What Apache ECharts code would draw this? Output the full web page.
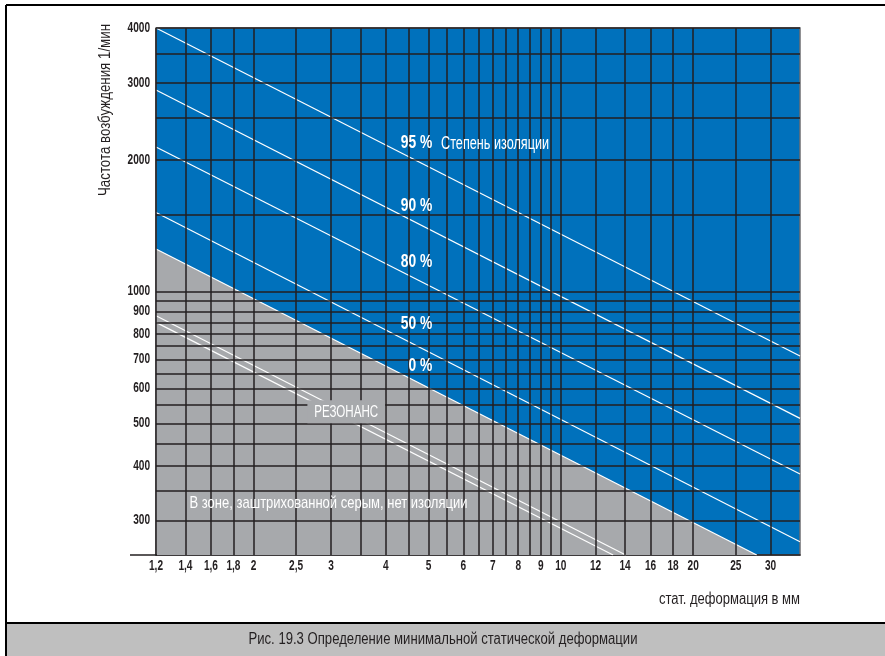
<!DOCTYPE html>
<html>
<head>
<meta charset="utf-8">
<script src="https://cdn.jsdelivr.net/npm/echarts@6/dist/echarts.min.js"></script>
<style>
html,body{margin:0;padding:0;background:#fff;}
#chart{width:885px;height:656px;}
</style>
</head>
<body>
<div id="chart"></div>
<script>
// ---- data ----
var xMin = 1.2, xMax = 35, yMin = 250, yMax = 4000;
var xGrid = [1.2,1.4,1.6,1.8,2,2.5,3,3.5,4,4.5,5,5.5,6,6.5,7,7.5,8,8.5,9,9.5,10,12,14,16,18,20,25,30];
var yGrid = [300,350,400,450,500,550,600,650,700,750,800,850,900,950,1000,1500,2000,2500,3000,3500,4000];
var xTicks = [1.2,1.4,1.6,1.8,2,2.5,3,4,5,6,7,8,9,10,12,14,16,18,20,25,30];
var xTickLabels = ['1,2','1,4','1,6','1,8','2','2,5','3','4','5','6','7','8','9','10','12','14','16','18','20','25','30'];
var yTicks = [300,400,500,600,700,800,900,1000,2000,3000,4000];
var yTickLabels = ['300','400','500','600','700','800','900','1000','2000','3000','4000'];
// isolation lines (start / end points)
var line95 = [[1.2,4000],[35,712]];
var line90 = [[1.2,2886],[35,513]];
var line80 = [[1.2,2139],[35,383]];
var line50 = [[1.2,1515],[35,268]];
var line0  = [[1.2,1250],[27.9,250]];   // boundary of grey zone
var reson1 = [[1.2,880],[14.05,250]];
var reson2 = [[1.2,850],[13.15,250]];
// label anchor points (data coordinates)
var pctLabels = ['95 %','90 %','80 %','50 %','0 %'];
var pctPos = [[5.1,2188],[5.1,1568],[5.1,1170],[5.1,843],[5.1,677]];
var degreeText = 'Степень изоляции', degreePos = [5.34,2188];
var resText = 'РЕЗОНАНС', resPos = [3.25,531];
var zoneText = 'В зоне, заштрихованной серым, нет изоляции', zonePos = [1.43,328];

var FONT = "'Liberation Sans',Arial,sans-serif";
var BLUE = '#0071bc', GREY = '#a7a9ac', GRID = '#231f20', DARK = '#231f20';

// text width measurement for condensed look
var mctx = document.createElement('canvas').getContext('2d');
function tw(text, font){ mctx.font = font; return mctx.measureText(text).width; }
function fit(text, font, w){ return w / tw(text, font); }

function whiteLine(d, z){
  return {type:'line', data:d, showSymbol:false, symbol:'none', silent:true, z:z||4,
          lineStyle:{color:'#ffffff', width:1.2}, clip:true};
}

var chart = echarts.init(document.getElementById('chart'), null, {renderer:'canvas'});
var option = {
  animation:false,
  grid:{left:156, right:85, top:28, bottom:101, show:true, backgroundColor:BLUE, borderColor:'#6d6e71', borderWidth:1.5},
  xAxis:{type:'log', logBase:10, min:xMin, max:xMax,
    axisLine:{show:true, onZero:false, lineStyle:{color:DARK, width:1.5}},
    axisTick:{show:false}, axisLabel:{show:false}, splitLine:{show:false}},
  yAxis:{type:'log', logBase:10, min:yMin, max:yMax,
    axisLine:{show:false}, axisTick:{show:false}, axisLabel:{show:false}, splitLine:{show:false}},
  series:[
    {type:'line', data:line0, showSymbol:false, symbol:'none', silent:true, z:1,
      lineStyle:{width:0}, areaStyle:{color:GREY, opacity:1, origin:'start'}},
    {type:'line', data:[], silent:true, z:3,
      markLine:{silent:true, symbol:['none','none'], label:{show:false}, animation:false,
        lineStyle:{color:GRID, width:1.5, type:'solid'},
        data: xGrid.map(function(v){return {xAxis:v};}).concat(yGrid.map(function(v){return {yAxis:v};}))}},
    whiteLine(line95), whiteLine(line90), whiteLine(line80), whiteLine(line50), whiteLine(line0),
    whiteLine(reson1), whiteLine(reson2)
  ]
};
chart.setOption(option);

function px(p){ return chart.convertToPixel({gridIndex:0}, p); }

var g = [];
// frame and caption band
g.push({type:'line', shape:{x1:6,y1:5,x2:885,y2:5}, style:{stroke:'#000', lineWidth:2}, silent:true, z:10});
g.push({type:'line', shape:{x1:6,y1:5,x2:6,y2:656}, style:{stroke:'#000', lineWidth:2}, silent:true, z:10});
g.push({type:'rect', shape:{x:7,y:623,width:878,height:33}, style:{fill:'#bfbfbf'}, silent:true, z:10});
g.push({type:'line', shape:{x1:6,y1:623,x2:885,y2:623}, style:{stroke:'#000', lineWidth:2}, silent:true, z:10});
g.push({type:'line', shape:{x1:130,y1:555,x2:157,y2:555}, style:{stroke:DARK, lineWidth:1.5}, silent:true, z:10});

function addText(text, x, y, size, weight, align, vAlign, sx, color, rot, extra){
  var st = {text:text, fill:color||DARK, font:(weight||'normal')+' '+size+'px '+FONT, align:align, verticalAlign:vAlign};
  if (extra) for (var k in extra) st[k] = extra[k];
  g.push({type:'text', x:x, y:y, scaleX:sx, rotation:rot||0, style:st, silent:true, z:20});
}

// tick labels
var tickFont = 'bold 14px '+FONT;
var tickScale = fit('1000', tickFont, 22.5);
xTicks.forEach(function(v,i){
  var p = px([v, yMin]);
  addText(xTickLabels[i], p[0], p[1]+11, 14, 'bold', 'center', 'middle', tickScale);
});
yTicks.forEach(function(v,i){
  var p = px([xMin, v]);
  addText(yTickLabels[i], p[0]-6, p[1], 14, 'bold', 'right', 'middle', tickScale);
});

// in-plot labels
var pctScale = fit('95 %', 'bold 19px '+FONT, 31.5);
pctLabels.forEach(function(t,i){
  var p = px(pctPos[i]);
  addText(t, p[0], p[1], 19, 'bold', 'right', 'middle', pctScale, '#ffffff');
});
var dp = px(degreePos);
addText(degreeText, dp[0], dp[1]+1, 18, 'normal', 'left', 'middle', fit(degreeText, '18px '+FONT, 108), '#ffffff');
var rp = px(resPos);
addText(resText, rp[0], rp[1], 17, 'normal', 'center', 'middle', fit(resText, '17px '+FONT, 64), '#ffffff', 0,
  {backgroundColor:GREY, padding:[3,10,3,10]});
var zp = px(zonePos);
addText(zoneText, zp[0], zp[1], 17, 'normal', 'left', 'middle', fit(zoneText, '17px '+FONT, 278), '#ffffff');

// axis titles and caption
var yTitle = 'Частота возбуждения 1/мин';
addText(yTitle, 106, 110, 16, 'normal', 'center', 'middle', fit(yTitle, '16px '+FONT, 172), DARK, Math.PI/2);
var xTitle = 'стат. деформация в мм';
addText(xTitle, 800, 600, 16, 'normal', 'right', 'middle', fit(xTitle, '16px '+FONT, 141), DARK);
var cap = 'Рис. 19.3 Определение минимальной статической деформации';
addText(cap, 443, 640, 16, 'normal', 'center', 'middle', fit(cap, '16px '+FONT, 389), DARK);

chart.setOption({graphic: g});
</script>
</body>
</html>
